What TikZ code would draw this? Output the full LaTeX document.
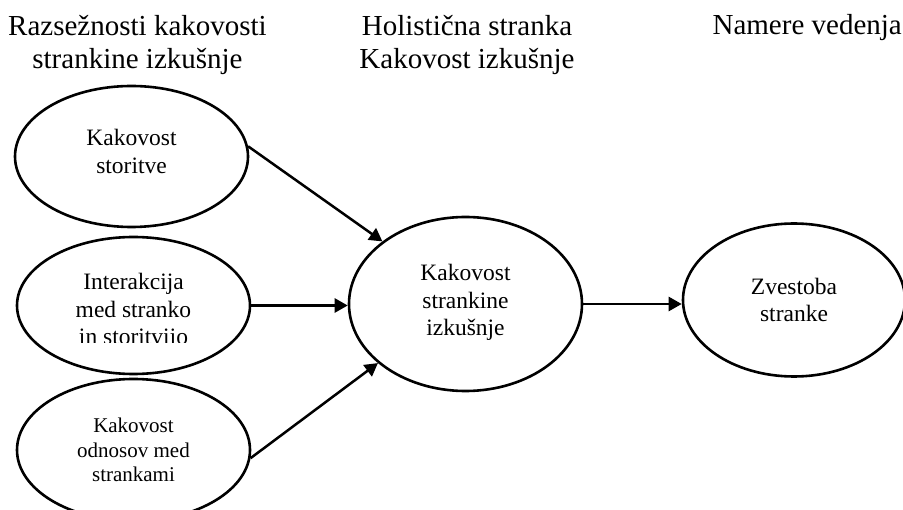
\documentclass[tikz,border=0pt]{standalone}
\usepackage{fontspec}
\setmainfont{Liberation Serif}
\usetikzlibrary{shapes.geometric,arrows.meta}
\tikzset{
  ell/.style={draw=black, line width=2.6pt, ellipse, inner sep=0pt},
  etext/.style={align=center, inner sep=0pt, font=\fontsize{23.5}{27.5}\selectfont},
  etextsmall/.style={align=center, inner sep=0pt, font=\fontsize{21}{24.5}\selectfont},
  title/.style={align=center, inner sep=0pt, font=\fontsize{29}{33}\selectfont},
  conn/.style={line width=2.5pt, -{Triangle[length=13pt,width=14pt]}}
}
\begin{document}
\begin{tikzpicture}[x=1pt,y=-1pt]
\useasboundingbox (0,0) rectangle (903,510);

% titles
\node[title] (t1) at (137.5,44.75) {Razsežnosti kakovosti\\strankine izkušnje};
\node[title] (t2) at (467,44.75) {Holistična stranka\\Kakovost izkušnje};
\node[title, anchor=base east] (t3) at (902,35) {Namere vedenja};

% ellipses
\node[ell, minimum width=233pt, minimum height=141pt] (e1) at (131.5,156.5) {};
\node[etext, yshift=5pt] (l1) at (e1.center) {Kakovost\\storitve};

\node[ell, minimum width=233pt, minimum height=137pt] (e2) at (133.5,305.5) {};
\begin{scope}
  \clip (0,0) rectangle (903,343);
  \node[etext, yshift=-6pt] (l2) at (e2.center) {Interakcija\\med stranko\\in storitvijo};
\end{scope}

\node[ell, minimum width=233pt, minimum height=142pt] (e3) at (133.5,450) {};
\node[etextsmall] (l3) at (e3.center) {Kakovost\\odnosov med\\strankami};

\node[ell, minimum width=233pt, minimum height=174pt] (ec) at (465.5,304) {};
\node[etext, yshift=1.5pt] (lc) at (ec.center) {Kakovost\\strankine\\izkušnje};

\node[ell, minimum width=222pt, minimum height=153pt] (ez) at (794,300) {};
\node[etext] (lz) at (ez.center) {Zvestoba\\stranke};

% connectors
\draw[conn] (e1.5.7) -- (ec.143.8);
\draw[conn] (e2.east) -- (e2.east -| ec.west);
\draw[conn] (e3.-4.9) -- (ec.214.2);
\draw[conn] (ec.east) -- (ec.east -| ez.west);
\end{tikzpicture}
\end{document}
